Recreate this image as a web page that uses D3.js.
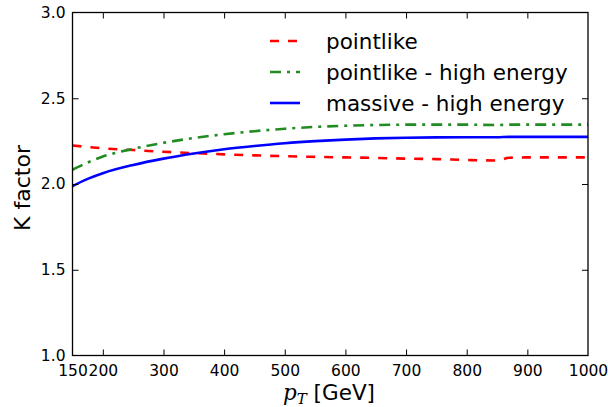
<!DOCTYPE html>
<html><head><meta charset="utf-8">
<script src="https://cdn.jsdelivr.net/npm/d3@7"></script>
<style>body{margin:0;background:#fff;} svg{display:block;font-family:"DejaVu Sans",sans-serif;}</style>
</head><body>
<svg id="c" width="608" height="407"></svg>
<script>
// data
const pT = [150,175,200,250,300,350,400,450,500,550,600,650,700,750,800,850,870,900,950,1000];
const pointlike = [2.225,2.216,2.208,2.198,2.188,2.180,2.173,2.167,2.162,2.158,2.155,2.152,2.148,2.145,2.140,2.137,2.153,2.155,2.155,2.155];
const pointlikeHE = [2.083,2.125,2.160,2.205,2.240,2.268,2.290,2.308,2.322,2.333,2.340,2.344,2.346,2.346,2.346,2.344,2.346,2.346,2.346,2.346];
const massiveHE = [1.988,2.030,2.063,2.111,2.148,2.178,2.203,2.222,2.238,2.250,2.259,2.266,2.270,2.272,2.273,2.273,2.275,2.275,2.275,2.275];
const xTicks = [150,200,300,400,500,600,700,800,900,1000];
const yTicks = [1.0,1.5,2.0,2.5,3.0];
const seriesNames = ["pointlike","pointlike - high energy","massive - high energy"];
const seriesColors = ["#ff0000","#228B22","#0000ff"];
const seriesDash = ["9,9","11,6,3,6",null];

const svg = d3.select("#c");
const L=72.5, R=588, T=12.5, B=355.5;
const x = d3.scaleLinear().domain([150,1000]).range([L,R]);
const y = d3.scaleLinear().domain([1,3]).range([B,T]);

const g = svg.append("g");
const series = [pointlike, pointlikeHE, massiveHE];
const line = d3.line().x((d,i)=>x(pT[i])).y(d=>y(d)).curve(d3.curveMonotoneX);
series.forEach((s,k)=>{
  g.append("path").datum(s).attr("d",line).attr("fill","none")
   .attr("stroke",seriesColors[k]).attr("stroke-width",2.6)
   .attr("stroke-dasharray",seriesDash[k]);
});

// axes (ticks inward)
const tl=6;
const ax = svg.append("g").attr("transform",`translate(0,${B})`)
  .call(d3.axisBottom(x).tickValues(xTicks).tickFormat(d3.format("d")).tickSizeInner(-tl).tickSizeOuter(0).tickPadding(9));
const axT = svg.append("g").attr("transform",`translate(0,${T})`)
  .call(d3.axisTop(x).tickValues(xTicks).tickFormat("").tickSizeInner(-tl).tickSizeOuter(0));
const ay = svg.append("g").attr("transform",`translate(${L},0)`)
  .call(d3.axisLeft(y).tickValues(yTicks).tickFormat(d3.format(".1f")).tickSizeInner(-tl).tickSizeOuter(0).tickPadding(7));
const ayR = svg.append("g").attr("transform",`translate(${R},0)`)
  .call(d3.axisRight(y).tickValues(yTicks).tickFormat("").tickSizeInner(-tl).tickSizeOuter(0));
[ax,axT,ay,ayR].forEach(a=>{
  a.select(".domain").remove();
  a.selectAll("line").attr("stroke","#000").attr("stroke-width",1);
  a.selectAll("text").attr("fill","#000").style("font-size","15.5px").style("font-family","DejaVu Sans");
});
ax.selectAll(".tick").filter(d=>d===150||d===1000).select("line").remove();
axT.selectAll(".tick").filter(d=>d===150||d===1000).select("line").remove();
ay.selectAll(".tick").filter(d=>d===1||d===3).select("line").remove();
ayR.selectAll(".tick").filter(d=>d===1||d===3).select("line").remove();

svg.append("rect").attr("x",L).attr("y",T).attr("width",R-L).attr("height",B-T)
  .attr("fill","none").attr("stroke","#000").attr("stroke-width",1.3);

// axis labels
const xl = svg.append("text").attr("x",329).attr("y",400).attr("text-anchor","middle")
  .style("font-size","21.5px").attr("fill","#000");
xl.append("tspan").text("p").style("font-family","DejaVu Serif").style("font-style","italic");
xl.append("tspan").text("T").style("font-family","DejaVu Serif").style("font-style","italic").style("font-size","15px").attr("dy",4);
xl.append("tspan").text(" [GeV]").attr("dy",-4);

svg.append("text").attr("transform","translate(30,188) rotate(-90)").attr("text-anchor","middle")
  .style("font-size","22px").attr("fill","#000").text("K factor");

// legend
const lg = svg.append("g");
const rowsY = [41,72,103];
seriesNames.forEach((n,k)=>{
  lg.append("line").attr("x1",270).attr("x2",300).attr("y1",rowsY[k]).attr("y2",rowsY[k])
    .attr("stroke",seriesColors[k]).attr("stroke-width",2.6).attr("stroke-dasharray",seriesDash[k]);
  lg.append("text").attr("x",326).attr("y",rowsY[k]).attr("dy","0.35em")
    .style("font-size","21.5px").attr("fill","#000").text(n);
});
</script>
</body></html>
